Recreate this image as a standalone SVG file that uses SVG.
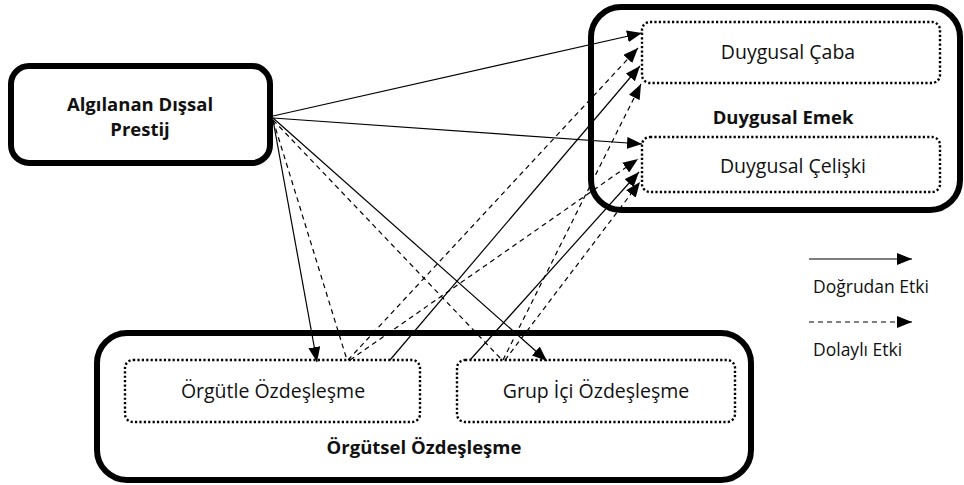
<svg xmlns="http://www.w3.org/2000/svg" width="964" height="485" viewBox="0 0 964 485">
<defs>
<marker id="ah" markerUnits="userSpaceOnUse" markerWidth="16" markerHeight="12" refX="15" refY="6" orient="auto">
<path d="M0,0 L15,6 L0,12 Z" fill="#000"/>
</marker>
<style>
.outer{fill:none;stroke:#000;stroke-width:6}
.inner{fill:none;stroke:#000;stroke-width:2.4;stroke-dasharray:2.2 2.2}
.t{font-family:"Open Sans","Liberation Sans",sans-serif;font-size:19.5px;fill:#111;text-anchor:middle}
.b{font-weight:bold;font-size:18.5px}
.lg{font-family:"Open Sans","Liberation Sans",sans-serif;font-size:17.5px;fill:#111}
.s{stroke:#000;stroke-width:1.2;fill:none}
.d{stroke:#000;stroke-width:1.2;fill:none;stroke-dasharray:5 4}
.a{marker-end:url(#ah)}
</style>
</defs>
<rect width="964" height="485" fill="#fff"/>

<g id="apd">
<rect class="outer" x="11" y="66" width="259" height="97" rx="18"/>
<text class="t b" x="140" y="111">Algılanan Dışsal</text>
<text class="t b" x="140" y="136">Prestij</text>
</g>

<g id="duygusal-emek">
<rect class="outer" x="591" y="7" width="369" height="203" rx="30"/>
<text class="t b" x="783" y="124">Duygusal Emek</text>
</g>
<g id="duygusal-caba">
<rect class="inner" x="642" y="22" width="298" height="61" rx="8"/>
<text class="t" x="788" y="59">Duygusal Çaba</text>
</g>
<g id="duygusal-celiski">
<rect class="inner" x="642" y="137" width="298" height="55" rx="8"/>
<text class="t" x="793" y="173">Duygusal Çelişki</text>
</g>

<g id="orgutsel-ozdeslesme">
<rect class="outer" x="97" y="333" width="654" height="147" rx="30"/>
<text class="t b" x="424" y="454">Örgütsel Özdeşleşme</text>
</g>
<g id="orgutle-ozdeslesme">
<rect class="inner" x="125" y="360" width="295" height="62" rx="8"/>
<text class="t" x="273" y="398">Örgütle Özdeşleşme</text>
</g>
<g id="grup-ici-ozdeslesme">
<rect class="inner" x="457" y="360" width="278" height="62" rx="8"/>
<text class="t" x="596" y="398">Grup İçi Özdeşleşme</text>
</g>

<g id="connectors">
<line class="s a" x1="273" y1="116" x2="642" y2="33"/>
<line class="s a" x1="273" y1="118" x2="642" y2="144"/>
<line class="s a" x1="273" y1="120" x2="317" y2="362"/>
<line class="s a" x1="273" y1="118" x2="547" y2="361"/>
<line class="d" x1="273" y1="120" x2="347" y2="360"/>
<line class="d" x1="273" y1="120" x2="502" y2="360"/>
<line class="d a" x1="348" y1="360" x2="638" y2="48"/>
<line class="d a" x1="350" y1="360" x2="638" y2="159"/>
<line class="s a" x1="390" y1="360" x2="640" y2="66"/>
<line class="s a" x1="470" y1="360" x2="639" y2="172"/>
<line class="d a" x1="503" y1="360" x2="641" y2="84"/>
<line class="d a" x1="505" y1="360" x2="640" y2="182"/>
</g>

<g id="legend">
<line class="s a" x1="809" y1="259" x2="912" y2="259"/>
<text class="lg" x="813" y="293">Doğrudan Etki</text>
<line class="d a" x1="809" y1="322" x2="912" y2="322"/>
<text class="lg" x="813" y="356">Dolaylı Etki</text>
</g>
</svg>
